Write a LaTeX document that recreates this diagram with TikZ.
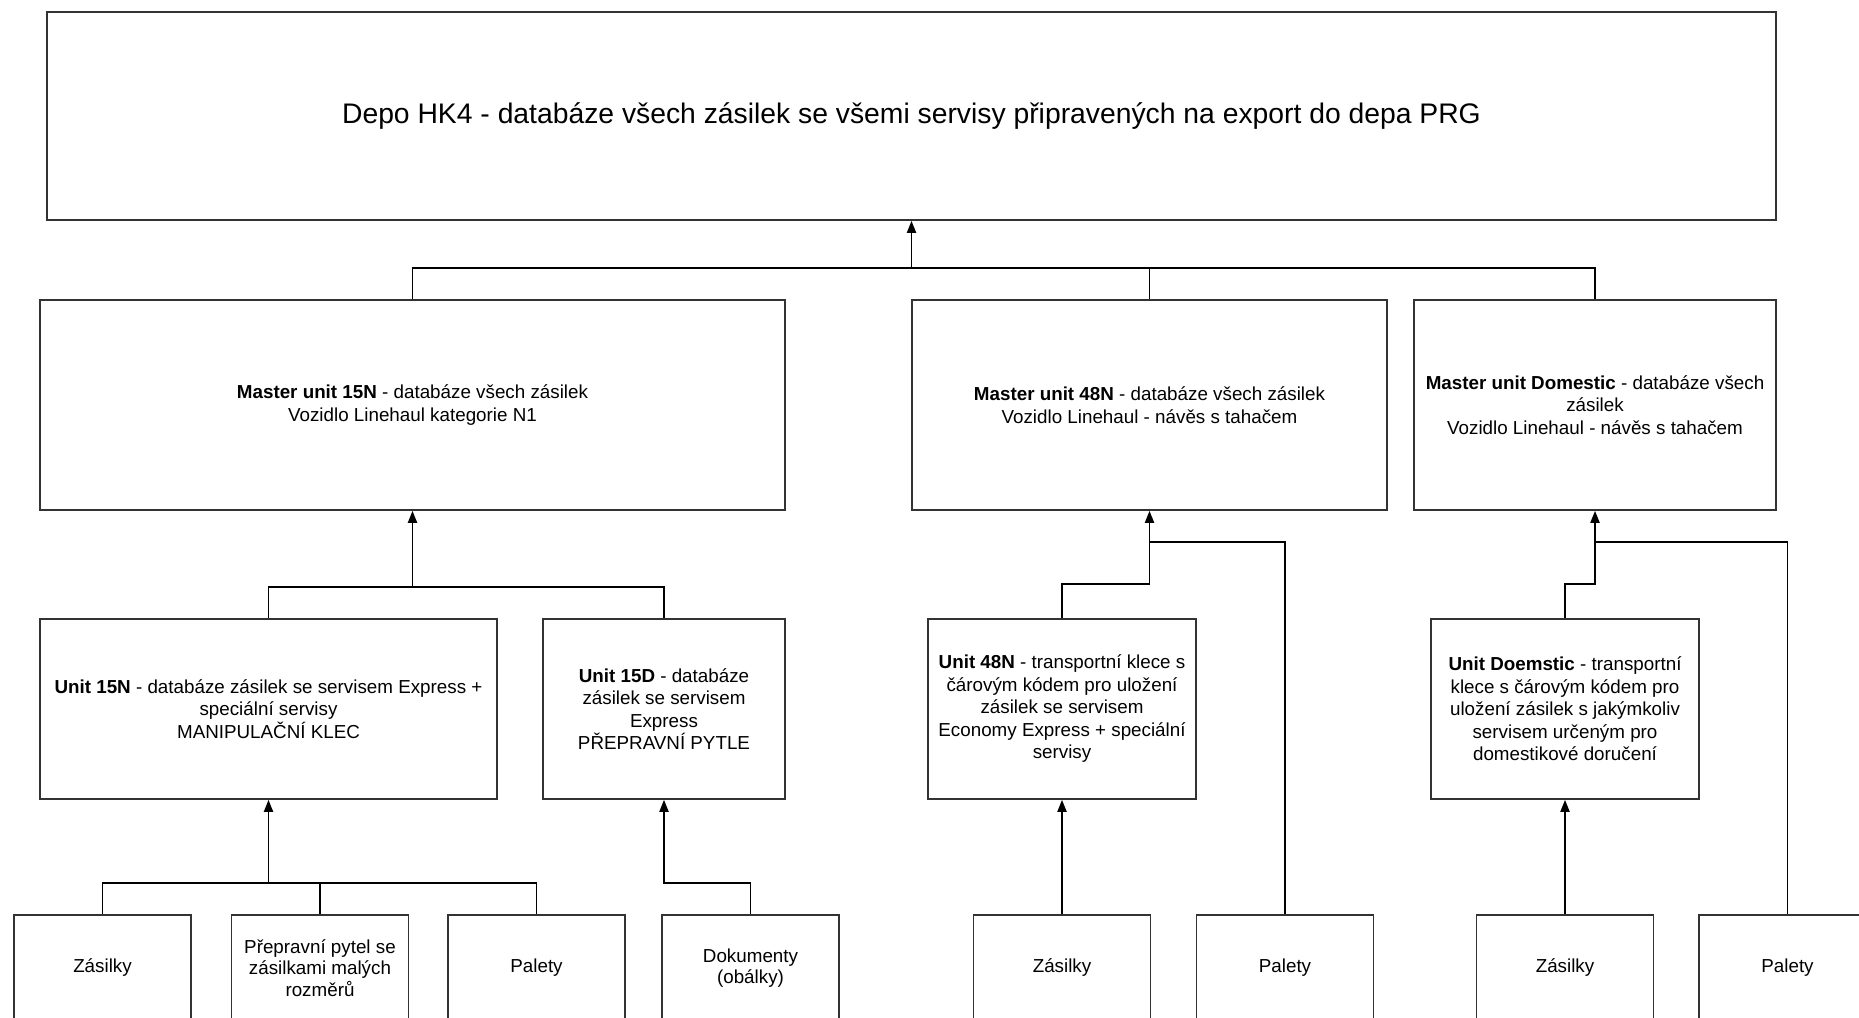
\documentclass[tikz,border=0pt]{standalone}
\usepackage{fontspec}
\setmainfont{Liberation Sans}
\usetikzlibrary{arrows.meta}
\begin{document}
\begin{tikzpicture}[x=1pt,y=-1pt,
  box/.style={draw=black!80,line width=1.6pt,rectangle,inner sep=0pt,align=center,
    font=\fontsize{18.8}{22.5}\selectfont,fill=white},
  conn/.style={line width=1.9pt,black},
  arr/.style={conn,-{Triangle[length=12pt,width=9pt]}}]
\fill[white] (0,0) rectangle (1859,1017);
\clip (0,0) rectangle (1859,1017);
% top
\node[box,minimum width=1729pt,minimum height=208pt,font=\fontsize{28.3}{32}\selectfont] (top) at (911.5,116)
  {Depo HK4 - databáze všech zásilek se všemi servisy připravených na export do depa PRG};
% masters
\node[box,minimum width=745pt,minimum height=210pt] (m15) at (412.5,405)
  {\textbf{Master unit 15N} - databáze všech zásilek\\Vozidlo Linehaul kategorie N1};
\node[box,minimum width=475pt,minimum height=210pt] (m48) at (1149.5,405)
  {\textbf{Master unit 48N} - databáze všech zásilek\\Vozidlo Linehaul - návěs s tahačem};
\node[box,minimum width=362pt,minimum height=210pt] (mdom) at (1595,405)
  {\textbf{Master unit Domestic} - databáze všech\\zásilek\\Vozidlo Linehaul - návěs s tahačem};
% units
\node[box,minimum width=457pt,minimum height=180pt] (u15n) at (268.5,709)
  {\textbf{Unit 15N} - databáze zásilek se servisem Express +\\speciální servisy\\MANIPULAČNÍ KLEC};
\node[box,minimum width=242pt,minimum height=180pt] (u15d) at (664,709)
  {\textbf{Unit 15D} - databáze\\zásilek se servisem\\Express\\PŘEPRAVNÍ PYTLE};
\node[box,minimum width=268pt,minimum height=180pt] (u48) at (1062,709)
  {\textbf{Unit 48N} - transportní klece s\\čárovým kódem pro uložení\\zásilek se servisem\\Economy Express + speciální\\servisy};
\node[box,minimum width=268pt,minimum height=180pt] (udom) at (1565,709)
  {\textbf{Unit Doemstic} - transportní\\klece s čárovým kódem pro\\uložení zásilek s jakýmkoliv\\servisem určeným pro\\domestikové doručení};
% bottom
\tikzset{leaf/.style={box,minimum width=177pt,minimum height=106pt,font=\fontsize{18.8}{21.5}\selectfont}}
\node[leaf] (z1) at (102.5,968) {Zásilky};
\node[leaf] (p) at (320,968) {Přepravní pytel se\\zásilkami malých\\rozměrů};
\node[leaf] (pal1) at (536.5,968) {Palety};
\node[leaf] (d) at (750.5,968) {Dokumenty\\(obálky)};
\node[leaf] (z2) at (1062,968) {Zásilky};
\node[leaf] (pal2) at (1285,968) {Palety};
\node[leaf] (z3) at (1565,968) {Zásilky};
\node[leaf] (pal3) at (1787.5,968) {Palety};
% connectors
\coordinate (b1) at (911.5,268);
\draw[conn] (m15.north) |- (b1);
\draw[conn] (m48.north) |- (b1);
\draw[conn] (mdom.north) |- (b1);
\draw[arr] (b1) -- (top.south);
\coordinate (b2) at (412.5,587);
\draw[conn] (u15n.north) |- (b2);
\draw[conn] (u15d.north) |- (b2);
\draw[arr] (b2) -- (m15.south);
\coordinate (b3) at (268.5,883);
\draw[conn] (z1.north) |- (b3);
\draw[conn] (p.north) |- (b3);
\draw[conn] (pal1.north) |- (b3);
\draw[arr] (b3) -- (u15n.south);
\coordinate (b4) at (664,883);
\draw[arr] (d.north) |- (b4) -- (u15d.south);
\draw[arr] (z2.north) -- (u48.south);
\coordinate (b5) at (1149.5,542);
\coordinate (b6) at (1149.5,584);
\draw[conn] (pal2.north) |- (b5);
\draw[arr] (u48.north) |- (b6) -- (m48.south);
\draw[arr] (z3.north) -- (udom.south);
\coordinate (b7) at (1595,542);
\coordinate (b8) at (1595,584);
\draw[conn] (pal3.north) |- (b7);
\draw[arr] (udom.north) |- (b8) -- (mdom.south);
\end{tikzpicture}
\end{document}
